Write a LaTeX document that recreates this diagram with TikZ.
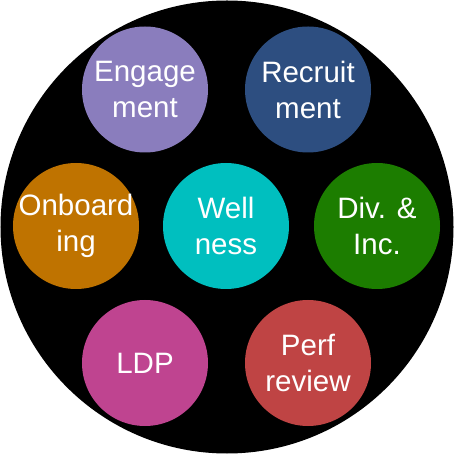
\documentclass[tikz,border=0pt]{standalone}
\usepackage{fontspec}
\setmainfont{Liberation Sans}
\usetikzlibrary{positioning}
\definecolor{engagec}{RGB}{138,125,189}
\definecolor{recruitc}{RGB}{45,78,128}
\definecolor{onboardc}{RGB}{191,115,0}
\definecolor{wellc}{RGB}{0,191,191}
\definecolor{divc}{RGB}{28,125,0}
\definecolor{ldpc}{RGB}{191,68,144}
\definecolor{perfc}{RGB}{191,68,68}
\begin{document}
\begin{tikzpicture}[x=1pt,y=1pt,
  blob/.style={shape=circle, minimum size=126pt, inner sep=-8pt, text=white, align=center, font=\fontsize{29.5}{36}\selectfont}]
\useasboundingbox (-227,-227) rectangle (227,227);
  \node[shape=circle, fill=black, minimum size=453pt] (Dial) at (0,0) {};
  \node[blob, fill=wellc] (Well) at (-1,1) {Well\\ness};
  \node[blob, fill=engagec] (Engage) at (-82,137.5) {Engage\\ment};
  \node[blob, fill=recruitc] (Recruit) at (81,137.5) {Recruit\\ment};
  \node[blob, fill=onboardc] (Onboard) at (-151,1) {Onboard\\ing};
  \node[blob, fill=divc] (Div) at (150,1) {Div. \&\\Inc.};
  \node[blob, fill=ldpc] (LDP) at (-82,-136) {LDP};
  \node[blob, fill=perfc] (Perf) at (81,-136) {Perf\\review};
\end{tikzpicture}
\end{document}
